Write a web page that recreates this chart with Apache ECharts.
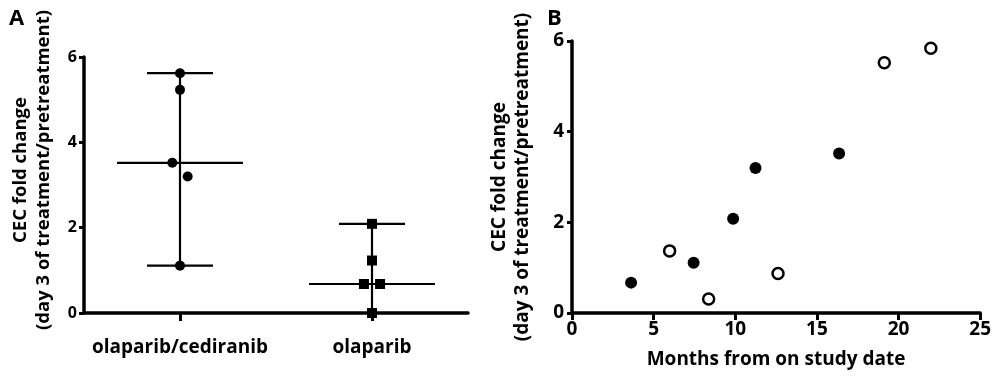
<!DOCTYPE html>
<html>
<head>
<meta charset="utf-8">
<script src="https://cdn.jsdelivr.net/npm/echarts@6/dist/echarts.min.js"></script>
<style>
  html, body { margin: 0; padding: 0; background: #fff; }
  #chart { width: 994px; height: 381px; }
</style>
</head>
<body>
<div id="chart"></div>
<script>
// panel A: fold change per treatment group
const groupNames = ['olaparib/cediranib', 'olaparib'];
const comboFold = [5.62, 5.23, 3.52, 3.20, 1.11];
const comboJitter = [0, 0, -0.04, 0.04, 0];
const olaFold = [2.09, 1.23, 0.68, 0.68, 0];
const olaJitter = [0, 0, -0.042, 0.042, 0];

// panel B: fold change vs months on study
const filledMonths = [3.62, 7.45, 9.87, 11.24, 16.36];
const filledFold = [0.67, 1.11, 2.08, 3.20, 3.52];
const openMonths = [5.98, 8.37, 12.62, 19.13, 21.98];
const openFold = [1.37, 0.31, 0.87, 5.52, 5.84];

const font = 'Open Sans';
const black = '#000';

function median(arr) {
  const s = arr.slice().sort((a, b) => a - b);
  const m = Math.floor(s.length / 2);
  return s.length % 2 ? s[m] : (s[m - 1] + s[m]) / 2;
}

// whisker (range) + caps + median line for one group
function rangeLines(pos, vals) {
  const lo = Math.min(...vals), hi = Math.max(...vals), md = median(vals);
  const cap = 0.172, mid = 0.328;
  const segs = [
    [[pos, lo], [pos, hi]],
    [[pos - cap, hi], [pos + cap, hi]],
    [[pos - cap, lo], [pos + cap, lo]],
    [[pos - mid, md], [pos + mid, md]]
  ];
  return segs.map(function (d) {
    return {
      type: 'line', xAxisIndex: 0, yAxisIndex: 0,
      data: d, symbol: 'none', silent: true, z: 2,
      lineStyle: { color: black, width: 2.2, opacity: 1 }
    };
  });
}

const chart = echarts.init(document.getElementById('chart'));

const axisLineStyle = { show: true, lineStyle: { color: black, width: 3.5 } };
const tickStyle = { show: true, length: 5, lineStyle: { color: black, width: 3 } };
const txt = function (size) {
  return { fontFamily: font, fontWeight: 'bold', fontSize: size, color: black };
};
const yName = 'CEC fold change\n(day 3 of treatment/pretreatment)';

const options = {
  animation: false,
  title: [
    { text: 'A', left: 4, top: 3, textStyle: txt(22) },
    { text: 'B', left: 542, top: 3, textStyle: txt(22) }
  ],
  grid: [
    { left: 84, top: 57, width: 384, height: 256 },
    { left: 572, top: 41, width: 410, height: 272 }
  ],
  xAxis: [
    {
      gridIndex: 0, type: 'value', min: 0.5, max: 2.5,
      axisLine: axisLineStyle,
      axisTick: { show: true, length: 8, customValues: [1, 2], lineStyle: { color: black, width: 3 } },
      axisLabel: Object.assign({
        customValues: [1, 2], margin: 25,
        formatter: function (v) { return groupNames[Math.round(v) - 1]; }
      }, txt(19)),
      splitLine: { show: false }
    },
    {
      gridIndex: 1, type: 'value', min: 0, max: 25, interval: 5,
      name: 'Months from on study date', nameLocation: 'middle', nameGap: 37,
      nameTextStyle: txt(19),
      axisLine: axisLineStyle,
      axisTick: { show: true, length: 7, lineStyle: { color: black, width: 3 } },
      axisLabel: Object.assign({ margin: 7 }, txt(19)),
      splitLine: { show: false }
    }
  ],
  yAxis: [
    {
      gridIndex: 0, type: 'value', min: 0, max: 6, interval: 2,
      name: yName, nameLocation: 'middle', nameGap: 29, nameRotate: 90,
      nameTextStyle: Object.assign({ lineHeight: 23, padding: [0, 0, 0, 30] }, txt(18.5)),
      axisLine: axisLineStyle,
      axisTick: tickStyle,
      axisLabel: Object.assign({ margin: 7 }, txt(16)),
      splitLine: { show: false }
    },
    {
      gridIndex: 1, type: 'value', min: 0, max: 6, interval: 2,
      name: yName, nameLocation: 'middle', nameGap: 38, nameRotate: 90,
      nameTextStyle: Object.assign({ lineHeight: 23 }, txt(19)),
      axisLine: axisLineStyle,
      axisTick: tickStyle,
      axisLabel: Object.assign({ margin: 8 }, txt(19)),
      splitLine: { show: false }
    }
  ],
  series: [].concat(
    rangeLines(1, comboFold),
    rangeLines(2, olaFold),
    [
      {
        type: 'scatter', xAxisIndex: 0, yAxisIndex: 0, z: 3,
        symbol: 'circle', symbolSize: 10,
        itemStyle: { color: black, opacity: 1 },
        data: comboFold.map(function (v, i) { return [1 + comboJitter[i], v]; })
      },
      {
        type: 'scatter', xAxisIndex: 0, yAxisIndex: 0, z: 3,
        symbol: 'rect', symbolSize: 10,
        itemStyle: { color: black, opacity: 1 },
        data: olaFold.map(function (v, i) { return [2 + olaJitter[i], v]; })
      },
      {
        type: 'scatter', xAxisIndex: 1, yAxisIndex: 1, z: 3,
        symbol: 'circle', symbolSize: 12,
        itemStyle: { color: black, opacity: 1 },
        data: filledMonths.map(function (m, i) { return [m, filledFold[i]]; })
      },
      {
        type: 'scatter', xAxisIndex: 1, yAxisIndex: 1, z: 3,
        symbol: 'circle', symbolSize: 11,
        itemStyle: { color: '#fff', borderColor: black, borderWidth: 2.5, opacity: 1 },
        data: openMonths.map(function (m, i) { return [m, openFold[i]]; })
      }
    ]
  )
};

chart.setOption(options);
</script>
</body>
</html>
